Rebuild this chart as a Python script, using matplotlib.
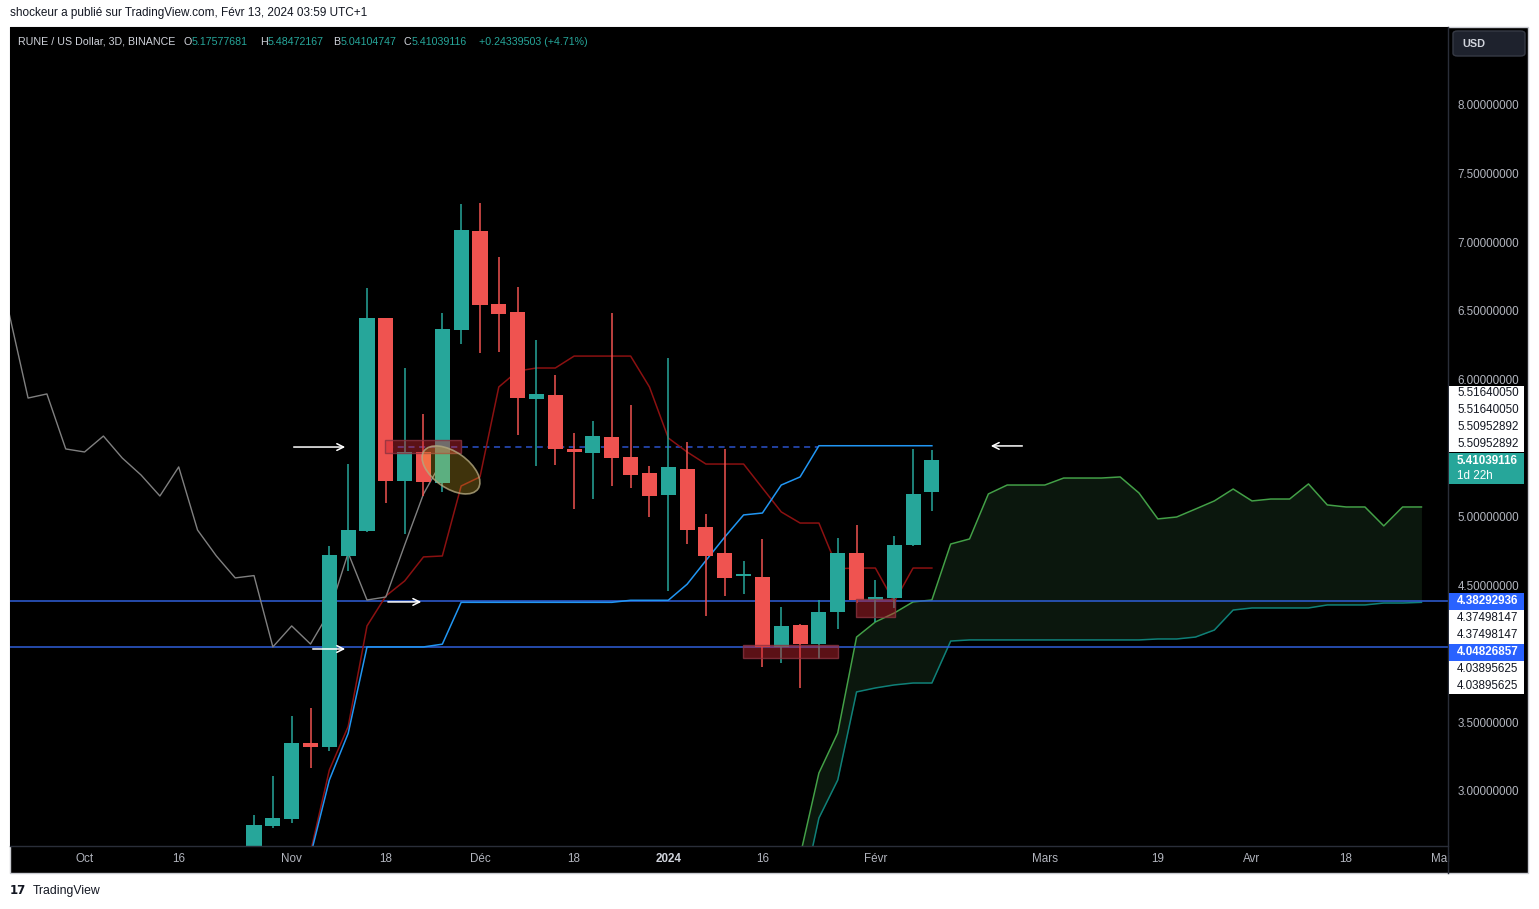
import matplotlib
matplotlib.use("Agg")
import matplotlib.pyplot as plt
import matplotlib.patches as mpatches
import matplotlib.transforms as mtransforms
import numpy as np

W, H = 1539, 909
plt.rcParams["font.family"] = ["Liberation Sans", "DejaVu Sans"]

# 3D candles, index 0 = first bar visible on the chart
opens  = [2.45, 2.745, 2.796, 3.35, 3.321, 4.713, 4.895, 6.447, 5.26, 5.471,
          5.245, 6.36, 7.082, 6.55, 6.491, 5.857, 5.886, 5.493, 5.464, 5.58,
          5.434, 5.318, 5.157, 5.347, 4.924, 4.735, 4.567, 4.56, 4.05, 4.21,
          4.071, 4.305, 4.735, 4.392, 4.407, 4.793, 5.17577681]
highs  = [2.825, 3.109, 3.547, 3.605, 4.786, 5.383, 6.666, 6.45, 6.083, 5.748,
          6.484, 7.278, 7.286, 6.892, 6.673, 6.287, 6.032, 5.609, 5.697, 6.484,
          5.813, 5.369, 6.156, 5.544, 5.019, 5.493, 4.676, 4.837, 4.341, 4.22,
          4.392, 4.844, 4.939, 4.538, 4.859, 5.493, 5.48472167]
lows   = [2.40, 2.73, 2.767, 3.168, 3.29, 4.60, 4.888, 5.099, 4.873, 5.15,
          5.18, 6.258, 6.192, 6.2, 5.595, 5.369, 5.376, 5.055, 5.128, 5.223,
          5.208, 4.997, 4.458, 4.80, 4.275, 4.421, 4.436, 3.904, 3.933, 3.75,
          3.962, 4.181, 4.37, 4.232, 4.334, 4.786, 5.04104747]
closes = [2.752, 2.803, 3.350, 3.32, 4.72, 4.90, 6.447, 5.26, 5.471, 5.25,
          6.367, 7.089, 6.542, 6.477, 5.864, 5.894, 5.493, 5.471, 5.587, 5.427,
          5.303, 5.15, 5.362, 4.902, 4.713, 4.553, 4.57, 4.05, 4.203, 4.071,
          4.305, 4.735, 4.392, 4.414, 4.793, 5.165, 5.41039116]

# ichimoku lines (bars 3..36)
line_start = 3
tenkan = [2.555, 3.153, 3.47, 4.203, 4.421, 4.531, 4.706, 4.713, 5.223, 5.289,
          5.945, 6.061, 6.083, 6.083, 6.17, 6.17, 6.17, 6.17, 5.945, 5.573,
          5.471, 5.383, 5.383, 5.383, 5.208, 5.034, 4.953, 4.953, 4.62, 4.625,
          4.625, 4.378, 4.625, 4.625]
kijun = [2.53, 3.08, 3.42, 4.05, 4.05, 4.05, 4.05, 4.07, 4.375, 4.375,
         4.375, 4.375, 4.375, 4.375, 4.375, 4.375, 4.375, 4.39, 4.39, 4.39,
         4.507, 4.68, 4.851, 5.012, 5.026, 5.23, 5.289, 5.5164005, 5.5164005, 5.5164005,
         5.5164005, 5.5164005, 5.5164005, 5.5164005]
lag = 26

# kumo (bars 29..62)
cloud_start = 29
span_a = [2.526, 3.131, 3.423, 4.122, 4.232, 4.297, 4.378, 4.392, 4.800, 4.837,
          5.165, 5.230, 5.230, 5.230, 5.281, 5.281, 5.281, 5.289, 5.172, 4.983,
          4.997, 5.055, 5.114, 5.201, 5.114, 5.128, 5.128, 5.238, 5.085, 5.070,
          5.070, 4.932, 5.070, 5.070]
span_b = [2.17, 2.803, 3.080, 3.722, 3.751, 3.773, 3.787, 3.787, 4.093, 4.101,
          4.101, 4.101, 4.101, 4.101, 4.101, 4.101, 4.101, 4.101, 4.101, 4.108,
          4.108, 4.122, 4.173, 4.319, 4.334, 4.334, 4.334, 4.334, 4.356, 4.356,
          4.356, 4.370, 4.370, 4.37498147]

# drawings
hlines = [4.38292936, 4.04826857]
dashed_level = 5.50952892
dashed_span = (7.05, 29.95)
boxes = [(6.96, 11.0, 5.463, 5.558), (25.97, 31.01, 3.969, 4.064), (31.97, 34.04, 4.268, 4.40)]
arrows = [(1.96, 4.99, 5.507), (6.96, 9.03, 4.378), (2.97, 4.99, 4.035), (40.95, 38.98, 5.515)]

time_pos = [-9, -4, 2, 7, 12, 17, 22, 27, 33, 42, 48, 53, 58, 63]
time_labels = ["Oct", "16", "Nov", "18", "Déc", "18", "2024", "16", "Févr", "Mars", "19", "Avr", "18", "Mai"]
price_ticks = [3.0, 3.5, 4.5, 5.0, 6.0, 6.5, 7.0, 7.5, 8.0]

GREEN = "#26a69a"
RED = "#ef5350"
AXTXT = "#b2b5be"
FS = 8.4


def fx(x):
    return x / W


def fy(y):
    return 1 - y / H


fig = plt.figure(figsize=(W / 100, H / 100), dpi=100, facecolor="white")

# black chart frame
fig.patches.append(mpatches.Rectangle((fx(10), fy(873)), 1518 / W, 846 / H, transform=fig.transFigure,
                                      facecolor="black", edgecolor="#c9cbd1", lw=1, zorder=-5))

ax = fig.add_axes([fx(10), fy(846), 1438 / W, 819 / H])
ax.set_zorder(1)
ax.set_facecolor("black")
for s in ax.spines.values():
    s.set_visible(False)
ax.set_xlim(-12.96, 63.41)
ax.set_ylim(2.599, 8.5685)

# cloud
cx = np.arange(cloud_start, cloud_start + len(span_a))
ax.fill_between(cx, span_a, span_b, color="#0b170d", zorder=1, lw=0)
ax.plot(cx, span_a, color="#43a047", lw=1.1, zorder=2)
ax.plot(cx, span_b, color="#0f8078", lw=1.1, zorder=2)

# horizontal levels
for lvl in hlines:
    ax.axhline(lvl, color="#2f5fd8", lw=1.1, zorder=2)
ax.plot(dashed_span, [dashed_level] * 2, color="#2a52c9", lw=1.1, ls=(0, (4, 3)), zorder=2)

# tenkan / kijun / lagging span
lx = np.arange(line_start, line_start + len(tenkan))
ax.plot(lx, tenkan, color="#8b1111", lw=1.1, zorder=3)
ax.plot(lx, kijun, color="#2196f3", lw=1.1, zorder=3)
chikou = closes[13:]
ax.plot(np.arange(13, len(closes)) - lag, chikou, color="#808080", lw=1.0, zorder=3)

# candles
idx = np.arange(len(opens))
o = np.array(opens)
c = np.array(closes)
cols = [GREEN if cc >= oo else RED for oo, cc in zip(o, c)]
ax.vlines(idx, lows, highs, colors=cols, lw=1.1, zorder=4)
body_h = np.maximum(np.abs(c - o), 0.012)
ax.bar(idx, body_h, bottom=np.minimum(o, c), width=0.8, color=cols, lw=0, zorder=5)

# boxes
for x0, x1, y0, y1 in boxes:
    ax.add_patch(mpatches.Rectangle((x0, y0), x1 - x0, y1 - y0, facecolor=(0.8, 0.15, 0.2, 0.45),
                                    edgecolor=(0.55, 0.2, 0.25, 0.8), lw=1, zorder=6))

# ellipse around the retest
tr = fig.dpi_scale_trans + mtransforms.ScaledTranslation(10.46, 5.34, ax.transData)
ax.add_patch(mpatches.Ellipse((0, 0), 0.66, 0.36, angle=-35, transform=tr,
                              facecolor=(1.0, 0.8, 0.2, 0.25), edgecolor=(0.7, 0.66, 0.5, 0.8), lw=1.2, zorder=7))

# arrows
for x0, x1, p in arrows:
    ax.annotate("", xy=(x1, p), xytext=(x0, p),
                arrowprops=dict(arrowstyle="->", color="white", lw=1.1, mutation_scale=12), zorder=8)

# axes ticks
ax.set_xticks(time_pos)
ax.set_xticklabels(time_labels)
ax.tick_params(axis="x", length=0, pad=5.0, labelsize=FS, labelcolor=AXTXT)
for t in ax.get_xticklabels():
    if t.get_text() == "2024":
        t.set_color("#d1d4dc")
        t.set_fontweight("bold")
ax.yaxis.tick_right()
ax.set_yticks(price_ticks)
ax.set_yticklabels(["%.8f" % v for v in price_ticks])
ax.tick_params(axis="y", length=0, pad=7.0, labelsize=FS, labelcolor=AXTXT)

# separators
fig.add_artist(plt.Line2D([fx(10), fx(1448)], [fy(846), fy(846)], transform=fig.transFigure, color="#2a2e39", lw=1, zorder=2))
fig.add_artist(plt.Line2D([fx(1448), fx(1448)], [fy(27), fy(873)], transform=fig.transFigure, color="#2a2e39", lw=1, zorder=2))

# header / legend
fig.text(fx(10), fy(13), "shockeur a publié sur TradingView.com, Févr 13, 2024 03:59 UTC+1",
         fontsize=8.5, color="#131722", va="center")
fig.text(fx(18), fy(42), "RUNE / US Dollar, 3D, BINANCE", fontsize=7.7, color="#d1d4dc", va="center", zorder=3)
legend_parts = [(184, "O", "5.17577681"), (260, "H", "5.48472167"), (333, "B", "5.04104747"), (404, "C", "5.41039116")]
for x, k, v in legend_parts:
    fig.text(fx(x), fy(42), k, fontsize=7.7, color="#d1d4dc", va="center", zorder=3)
    fig.text(fx(x + 7.5), fy(42), v, fontsize=7.7, color=GREEN, va="center", zorder=3)
fig.text(fx(479), fy(42), "+0.24339503 (+4.71%)", fontsize=7.7, color=GREEN, va="center", zorder=3)

# USD button
fig.patches.append(mpatches.FancyBboxPatch((fx(1453), fy(56)), 72 / W, 25 / H, transform=fig.transFigure,
                                           boxstyle="round,pad=0,rounding_size=0.003", facecolor="#1e222d",
                                           edgecolor="#363a45", lw=1, zorder=2))
fig.text(fx(1462), fy(44), "USD", fontsize=7.8, color="#d1d4dc", va="center", fontweight="bold", zorder=3)


# price labels on the scale
def label_box(y0, y1, color):
    fig.patches.append(mpatches.Rectangle((fx(1449), fy(y1)), 75 / W, (y1 - y0) / H, transform=fig.transFigure,
                                          facecolor=color, edgecolor="none", zorder=3))


label_box(386, 452, "white")
for y, t in [(393, "5.51640050"), (410, "5.51640050"), (427, "5.50952892"), (444, "5.50952892")]:
    fig.text(fx(1457), fy(y), t, fontsize=FS, color="#131722", va="center", zorder=4)
label_box(453, 484, GREEN)
fig.text(fx(1457), fy(461), "5.41039116", fontsize=FS, color="white", va="center", fontweight="bold", zorder=4)
fig.text(fx(1457), fy(476), "1d 22h", fontsize=FS, color="white", va="center", zorder=4)
label_box(593, 610, "#2962ff")
fig.text(fx(1457), fy(601), "4.38292936", fontsize=FS, color="white", va="center", fontweight="bold", zorder=4)
label_box(610, 644, "white")
fig.text(fx(1457), fy(618), "4.37498147", fontsize=FS, color="#131722", va="center", zorder=4)
fig.text(fx(1457), fy(635), "4.37498147", fontsize=FS, color="#131722", va="center", zorder=4)
label_box(644, 661, "#2962ff")
fig.text(fx(1457), fy(652), "4.04826857", fontsize=FS, color="white", va="center", fontweight="bold", zorder=4)
label_box(661, 694, "white")
fig.text(fx(1457), fy(669), "4.03895625", fontsize=FS, color="#131722", va="center", zorder=4)
fig.text(fx(1457), fy(686), "4.03895625", fontsize=FS, color="#131722", va="center", zorder=4)

# footer logo
fig.text(fx(10), fy(891), "17", fontsize=8.5, color="#131722", va="center", fontweight="bold", family="DejaVu Sans")
fig.text(fx(33), fy(891), "TradingView", fontsize=8.8, color="#131722", va="center")

fig.savefig("out.png", dpi=100, facecolor="white")
